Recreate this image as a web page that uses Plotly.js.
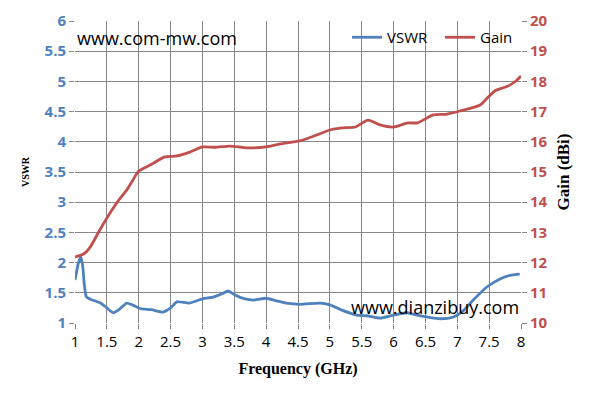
<!DOCTYPE html>
<html>
<head>
<meta charset="utf-8">
<script src="https://cdn.plot.ly/plotly-3.0.1.min.js"></script>
<style>html,body{margin:0;padding:0;background:#fff;}#chart{width:595px;height:404px;}</style>
</head>
<body>
<div id="chart"></div>
<script>
const freqVswr = [1.0, 1.05, 1.09, 1.12, 1.15, 1.18, 1.25, 1.4, 1.5, 1.6, 1.7, 1.81, 1.9, 2.02, 2.2, 2.38, 2.5, 2.6, 2.8, 3.0, 3.17, 3.3, 3.4, 3.5, 3.6, 3.8, 4.0, 4.15, 4.32, 4.53, 4.85, 5.0, 5.2, 5.42, 5.58, 5.79, 6.0, 6.21, 6.37, 6.52, 6.73, 6.94, 7.1, 7.25, 7.47, 7.67, 7.83, 7.98];
const vswr = [1.71, 1.98, 2.1, 1.95, 1.6, 1.43, 1.39, 1.33, 1.25, 1.17, 1.23, 1.33, 1.30, 1.24, 1.22, 1.18, 1.25, 1.35, 1.33, 1.40, 1.43, 1.48, 1.53, 1.47, 1.42, 1.38, 1.41, 1.37, 1.33, 1.31, 1.33, 1.30, 1.21, 1.13, 1.12, 1.08, 1.13, 1.17, 1.13, 1.10, 1.07, 1.10, 1.21, 1.38, 1.60, 1.73, 1.79, 1.81];
const freqGain = [1.0, 1.1, 1.16, 1.24, 1.39, 1.55, 1.68, 1.81, 1.9, 2.0, 2.18, 2.41, 2.6, 2.8, 3.0, 3.2, 3.43, 3.7, 4.0, 4.22, 4.53, 4.8, 5.0, 5.2, 5.4, 5.6, 5.79, 6.0, 6.21, 6.38, 6.62, 6.84, 7.04, 7.36, 7.47, 7.6, 7.78, 7.9, 8.0];
const gain = [12.19, 12.25, 12.32, 12.52, 13.08, 13.64, 14.05, 14.40, 14.7, 15.03, 15.23, 15.50, 15.53, 15.66, 15.83, 15.82, 15.86, 15.8, 15.83, 15.93, 16.03, 16.23, 16.39, 16.46, 16.49, 16.72, 16.56, 16.49, 16.62, 16.63, 16.89, 16.92, 17.02, 17.22, 17.45, 17.7, 17.83, 17.98, 18.18];

const blue = '#4F81BD', red = '#C0504D', grid = '#878787';
const tickSans = 'Open Sans, Noto Sans, sans-serif';
const serif = 'Liberation Serif, DejaVu Serif, serif';

const traces = [
  {x: freqVswr, y: vswr, name: 'VSWR', type: 'scatter', mode: 'lines',
   line: {color: blue, width: 2.8, shape: 'spline', smoothing: 0.6}, yaxis: 'y'},
  {x: freqGain, y: gain, name: 'Gain', type: 'scatter', mode: 'lines',
   line: {color: red, width: 2.8, shape: 'spline', smoothing: 0.6}, yaxis: 'y2'}
];

const layout = {
  width: 595, height: 404,
  margin: {l: 75, r: 74, t: 21, b: 81, pad: 0},
  paper_bgcolor: '#fff', plot_bgcolor: '#fff',
  showlegend: true,
  legend: {orientation: 'h', x: 1.027, xanchor: 'right', y: 1.0, yanchor: 'top',
    bgcolor: 'rgba(0,0,0,0)', font: {family: tickSans, size: 15, color: '#000'},
    entrywidth: 48, entrywidthmode: 'pixels', itemwidth: 30, tracegroupgap: 0},
  xaxis: {range: [1, 8], dtick: 0.5, tick0: 1, showgrid: true, gridcolor: grid, gridwidth: 1,
    zeroline: false, showline: false, ticks: 'outside', ticklen: 5, tickcolor: grid, tickwidth: 1,
    tickfont: {family: tickSans, size: 15, color: '#000'},
    title: {text: 'Frequency (GHz)', font: {family: serif, size: 16, color: '#000', weight: 'bold'}, standoff: 12}},
  yaxis: {range: [1, 6], dtick: 0.5, tick0: 1, showgrid: true, gridcolor: grid, gridwidth: 1,
    zeroline: false, showline: false, ticks: 'outside', ticklen: 5, tickcolor: grid, tickwidth: 1,
    tickfont: {family: tickSans, size: 15, color: blue, weight: 'bold'},
    title: {text: 'VSWR', font: {family: serif, size: 10, color: '#000', weight: 'bold'}, standoff: 13}},
  yaxis2: {range: [10, 20], dtick: 1, overlaying: 'y', side: 'right', showgrid: false,
    zeroline: false, showline: false, ticks: 'outside', ticklen: 5, tickcolor: grid, tickwidth: 1,
    tickfont: {family: tickSans, size: 15, color: red, weight: 'bold'},
    title: {text: 'Gain (dBi)', font: {family: serif, size: 17, color: '#000', weight: 'bold'}, standoff: 10}},
  annotations: [
    {xref: 'paper', yref: 'paper', x: 0, y: 0.945, xanchor: 'left', yanchor: 'middle', showarrow: false,
     text: 'www.com-mw.com', font: {family: tickSans, size: 18, color: '#000'}},
    {xref: 'paper', yref: 'paper', x: 1, y: 0.052, xanchor: 'right', yanchor: 'middle', showarrow: false,
     text: 'www.dianzibuy.com', font: {family: tickSans, size: 18, color: '#000'}}
  ]
};

Plotly.newPlot('chart', traces, layout, {displayModeBar: false, staticPlot: true});
</script>
</body>
</html>
